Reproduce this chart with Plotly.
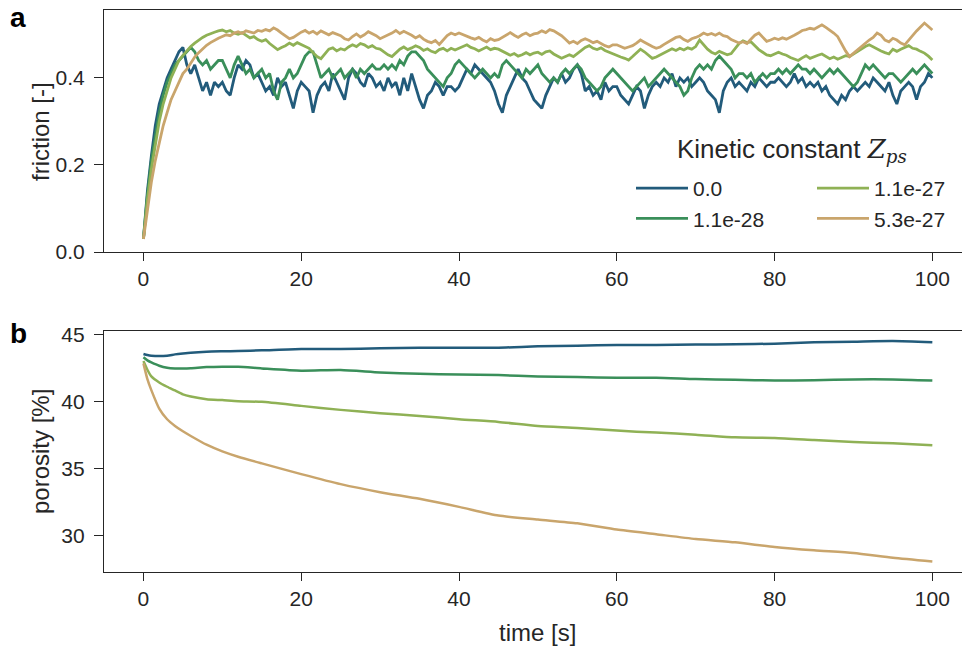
import plotly.graph_objects as go
from plotly.subplots import make_subplots

# friction sampled every 0.5 s from 0 to 100 s
time_fric = [i * 0.5 for i in range(201)]

fric_0 = [
    0.03, 0.14, 0.22, 0.29, 0.34, 0.37, 0.40, 0.42, 0.44, 0.46, 0.47, 0.43, 0.41, 0.43, 0.40, 0.37, 0.39, 0.36, 0.39, 0.38,
    0.39, 0.37, 0.36, 0.40, 0.43, 0.42, 0.44, 0.43, 0.40, 0.41, 0.39, 0.37, 0.38, 0.36, 0.40, 0.38, 0.39, 0.36, 0.33, 0.37,
    0.39, 0.38, 0.37, 0.32, 0.36, 0.38, 0.39, 0.37, 0.41, 0.39, 0.37, 0.35, 0.40, 0.42, 0.41, 0.39, 0.38, 0.41, 0.40, 0.38,
    0.39, 0.37, 0.40, 0.38, 0.39, 0.36, 0.40, 0.37, 0.41, 0.38, 0.35, 0.33, 0.36, 0.37, 0.39, 0.38, 0.36, 0.38, 0.38, 0.37,
    0.38, 0.40, 0.42, 0.41, 0.43, 0.42, 0.41, 0.40, 0.39, 0.37, 0.34, 0.32, 0.36, 0.38, 0.40, 0.42, 0.40, 0.39, 0.37, 0.35,
    0.34, 0.33, 0.36, 0.38, 0.40, 0.39, 0.41, 0.39, 0.40, 0.42, 0.43, 0.41, 0.37, 0.38, 0.36, 0.37, 0.35, 0.39, 0.37, 0.38,
    0.38, 0.36, 0.35, 0.34, 0.36, 0.38, 0.37, 0.33, 0.36, 0.38, 0.39, 0.38, 0.40, 0.39, 0.41, 0.38, 0.40, 0.39, 0.40, 0.38,
    0.39, 0.40, 0.39, 0.37, 0.36, 0.35, 0.32, 0.37, 0.39, 0.40, 0.38, 0.39, 0.38, 0.37, 0.39, 0.38, 0.40, 0.39, 0.38, 0.39,
    0.39, 0.40, 0.39, 0.38, 0.39, 0.41, 0.39, 0.40, 0.38, 0.39, 0.38, 0.39, 0.37, 0.38, 0.36, 0.35, 0.34, 0.36, 0.35, 0.37,
    0.38, 0.37, 0.38, 0.39, 0.38, 0.40, 0.39, 0.38, 0.37, 0.39, 0.36, 0.34, 0.37, 0.38, 0.39, 0.38, 0.35, 0.38, 0.39, 0.41,
    0.40,
]

fric_1 = [
    0.03, 0.13, 0.21, 0.27, 0.32, 0.36, 0.39, 0.41, 0.43, 0.44, 0.45, 0.46, 0.47, 0.46, 0.44, 0.43, 0.44, 0.42, 0.43, 0.44,
    0.44, 0.42, 0.40, 0.43, 0.45, 0.43, 0.41, 0.42, 0.40, 0.41, 0.42, 0.40, 0.41, 0.37, 0.35, 0.39, 0.40, 0.42, 0.40, 0.41,
    0.43, 0.45, 0.46, 0.46, 0.43, 0.40, 0.41, 0.42, 0.40, 0.41, 0.42, 0.40, 0.41, 0.42, 0.40, 0.42, 0.41, 0.42, 0.43, 0.42,
    0.42, 0.43, 0.42, 0.43, 0.42, 0.44, 0.43, 0.45, 0.46, 0.46, 0.45, 0.44, 0.42, 0.41, 0.40, 0.39, 0.38, 0.40, 0.41, 0.43,
    0.44, 0.43, 0.42, 0.41, 0.40, 0.41, 0.42, 0.41, 0.40, 0.41, 0.40, 0.43, 0.44, 0.43, 0.42, 0.41, 0.40, 0.42, 0.41, 0.42,
    0.43, 0.41, 0.40, 0.39, 0.40, 0.39, 0.41, 0.42, 0.41, 0.42, 0.43, 0.42, 0.40, 0.39, 0.38, 0.37, 0.38, 0.40, 0.41, 0.42,
    0.41, 0.40, 0.39, 0.38, 0.37, 0.38, 0.39, 0.40, 0.38, 0.39, 0.40, 0.41, 0.42, 0.41, 0.40, 0.39, 0.38, 0.36, 0.37, 0.40,
    0.42, 0.43, 0.42, 0.43, 0.42, 0.44, 0.45, 0.44, 0.43, 0.42, 0.40, 0.41, 0.41, 0.40, 0.41, 0.39, 0.40, 0.41, 0.40, 0.41,
    0.41, 0.42, 0.41, 0.42, 0.41, 0.42, 0.43, 0.42, 0.42, 0.41, 0.42, 0.41, 0.40, 0.41, 0.42, 0.41, 0.42, 0.41, 0.40, 0.39,
    0.38, 0.39, 0.41, 0.43, 0.42, 0.43, 0.42, 0.41, 0.40, 0.41, 0.41, 0.40, 0.39, 0.40, 0.41, 0.42, 0.41, 0.42, 0.43, 0.42,
    0.41,
]

fric_2 = [
    0.03, 0.12, 0.19, 0.25, 0.30, 0.34, 0.37, 0.40, 0.42, 0.44, 0.452, 0.463, 0.472, 0.48, 0.487, 0.493, 0.498, 0.502, 0.505, 0.508,
    0.51, 0.506, 0.509, 0.503, 0.5, 0.504, 0.498, 0.492, 0.495, 0.488, 0.484, 0.488, 0.479, 0.472, 0.465, 0.47, 0.474, 0.48, 0.475, 0.481,
    0.477, 0.472, 0.468, 0.458, 0.449, 0.444, 0.456, 0.466, 0.469, 0.462, 0.467, 0.464, 0.471, 0.476, 0.472, 0.479, 0.476, 0.47, 0.474, 0.468,
    0.466, 0.459, 0.453, 0.449, 0.458, 0.466, 0.471, 0.465, 0.469, 0.474, 0.47, 0.463, 0.467, 0.461, 0.458, 0.465, 0.468, 0.462, 0.468, 0.464,
    0.468, 0.472, 0.476, 0.47, 0.467, 0.462, 0.467, 0.471, 0.465, 0.468, 0.466, 0.461, 0.456, 0.452, 0.456, 0.45, 0.453, 0.458, 0.453, 0.457,
    0.459, 0.454, 0.46, 0.462, 0.455, 0.449, 0.445, 0.449, 0.453, 0.449, 0.456, 0.463, 0.47, 0.474, 0.468, 0.465, 0.469, 0.463, 0.459, 0.455,
    0.452, 0.448, 0.445, 0.441, 0.449, 0.458, 0.466, 0.46, 0.452, 0.445, 0.448, 0.453, 0.457, 0.462, 0.467, 0.463, 0.468, 0.464, 0.469, 0.466,
    0.472, 0.487, 0.476, 0.466, 0.459, 0.455, 0.461, 0.457, 0.453, 0.456, 0.468, 0.479, 0.485, 0.481, 0.483, 0.474, 0.465, 0.459, 0.453, 0.451,
    0.455, 0.459, 0.455, 0.452, 0.447, 0.443, 0.44, 0.446, 0.451, 0.445, 0.449, 0.452, 0.455, 0.449, 0.444, 0.448, 0.443, 0.447, 0.451, 0.449,
    0.455, 0.462, 0.468, 0.472, 0.476, 0.471, 0.467, 0.462, 0.458, 0.455, 0.466, 0.461, 0.466, 0.47, 0.474, 0.468, 0.466, 0.461, 0.457, 0.45,
    0.441,
]

fric_3 = [
    0.03, 0.10, 0.16, 0.21, 0.25, 0.29, 0.32, 0.35, 0.37, 0.39, 0.41, 0.42, 0.435, 0.448, 0.458, 0.467, 0.475, 0.481, 0.487, 0.491,
    0.495, 0.499, 0.497, 0.503, 0.506, 0.502, 0.508, 0.505, 0.503, 0.509, 0.507, 0.511, 0.508, 0.515, 0.51, 0.503, 0.497, 0.49, 0.493, 0.5,
    0.505, 0.509, 0.503, 0.507, 0.501, 0.508, 0.503, 0.499, 0.504, 0.5, 0.497, 0.49, 0.487, 0.495, 0.501, 0.494, 0.499, 0.506, 0.501, 0.497,
    0.49, 0.494, 0.499, 0.503, 0.509, 0.502, 0.507, 0.503, 0.498, 0.492, 0.497, 0.489, 0.484, 0.481, 0.486, 0.477, 0.488, 0.497, 0.503, 0.499,
    0.503, 0.499, 0.496, 0.492, 0.489, 0.493, 0.487, 0.483, 0.49, 0.486, 0.488, 0.494, 0.5, 0.504, 0.498, 0.493, 0.499, 0.503, 0.497, 0.501,
    0.503, 0.508, 0.504, 0.511, 0.508, 0.503, 0.497, 0.489, 0.48, 0.484, 0.479, 0.486, 0.49, 0.486, 0.481, 0.484, 0.478, 0.474, 0.471, 0.476,
    0.476, 0.472, 0.468, 0.471, 0.474, 0.48, 0.487, 0.482, 0.476, 0.472, 0.468, 0.471, 0.477, 0.482, 0.488, 0.493, 0.495, 0.488, 0.484, 0.49,
    0.493, 0.497, 0.503, 0.499, 0.502, 0.498, 0.503, 0.497, 0.495, 0.488, 0.484, 0.48, 0.483, 0.479, 0.489, 0.498, 0.503, 0.494, 0.484, 0.487,
    0.491, 0.488, 0.492, 0.489, 0.493, 0.498, 0.503, 0.509, 0.511, 0.514, 0.512, 0.518, 0.522, 0.516, 0.51, 0.503, 0.495, 0.478, 0.462, 0.449,
    0.457, 0.465, 0.471, 0.48, 0.487, 0.493, 0.503, 0.498, 0.487, 0.483, 0.491, 0.487, 0.48, 0.476, 0.487, 0.499, 0.508, 0.517, 0.526, 0.518,
    0.51,
]

# porosity [%], smooth curves
time_por = [0, 0.5, 1, 2, 3, 4, 5, 6, 8, 10, 12, 15, 20, 25, 30, 35, 40, 45, 50, 55, 60, 65, 70, 75, 80, 85, 90, 95, 100]
por_0 = [43.58, 43.50, 43.45, 43.42, 43.45, 43.55, 43.62, 43.68, 43.75, 43.78, 43.80, 43.85, 43.95, 43.95, 44.00,
         44.05, 44.05, 44.05, 44.15, 44.20, 44.25, 44.25, 44.28, 44.30, 44.35, 44.45, 44.50, 44.55, 44.45]
por_1 = [43.33, 43.10, 42.95, 42.70, 42.55, 42.50, 42.50, 42.52, 42.60, 42.63, 42.62, 42.50, 42.33, 42.38, 42.20,
         42.10, 42.05, 42.00, 41.90, 41.85, 41.80, 41.80, 41.70, 41.65, 41.60, 41.62, 41.68, 41.68, 41.60]
por_2 = [43.05, 42.40, 41.90, 41.45, 41.13, 40.85, 40.56, 40.40, 40.20, 40.13, 40.05, 40.00, 39.70, 39.40, 39.15,
         38.95, 38.70, 38.50, 38.20, 38.05, 37.85, 37.70, 37.55, 37.35, 37.30, 37.15, 37.00, 36.90, 36.76]
por_3 = [42.88, 41.70, 40.88, 39.50, 38.70, 38.20, 37.80, 37.45, 36.80, 36.30, 35.90, 35.40, 34.60, 33.85, 33.25,
         32.75, 32.15, 31.50, 31.20, 30.92, 30.45, 30.10, 29.75, 29.50, 29.15, 28.90, 28.70, 28.35, 28.07]

labels = ["0.0", "1.1e-28", "1.1e-27", "5.3e-27"]
colors = ["#225b7b", "#3a8f5a", "#8fb155", "#c9a56c"]
x_ticks = [0, 20, 40, 60, 80, 100]
fric_ticks = [0.0, 0.2, 0.4]
por_ticks = [30, 35, 40, 45]

FONT = "Arial, Liberation Sans, sans-serif"
INK = "#262626"

fig = make_subplots(rows=2, cols=1, vertical_spacing=0.14)

fric = [fric_0, fric_1, fric_2, fric_3]
por = [por_0, por_1, por_2, por_3]
legend_of = ["legend", "legend", "legend2", "legend2"]
for i in range(4):
    fig.add_trace(go.Scatter(x=time_fric, y=fric[i], mode="lines", name=labels[i],
                             line=dict(color=colors[i], width=2.8), legend=legend_of[i]),
                  row=1, col=1)
for i in range(4):
    fig.add_trace(go.Scatter(x=time_por, y=por[i], mode="lines", showlegend=False,
                             line=dict(color=colors[i], width=2.5, shape="spline", smoothing=0.6)),
                  row=2, col=1)

axis_style = dict(showline=True, linecolor=INK, linewidth=1.2, ticks="outside",
                  tickwidth=1.2, tickcolor=INK, showgrid=False, zeroline=False,
                  tickfont=dict(family=FONT, size=21, color=INK))

# plot area: x 104..962 px, y 10..572 px
top_dom = [(572 - 252) / 562, 1.0]
bot_dom = [0.0, (572 - 330.7) / 562]
fig.update_xaxes(**axis_style, ticklen=8, range=[-5, 103.76], tickvals=x_ticks, mirror=True)
fig.update_yaxes(**axis_style, ticklen=9, ticklabelstandoff=5)
fig.update_yaxes(range=[0, 0.556], tickvals=fric_ticks, tickformat=".1f", domain=top_dom, row=1, col=1)
fig.update_yaxes(range=[27.28, 45.32], tickvals=por_ticks, domain=bot_dom, row=2, col=1)

def px_x(p):
    return (p - 104) / 858

def px_y(p):
    return (572 - p) / 562

text_font = dict(family=FONT, size=24, color=INK)
annots = [
    dict(text="<b>a</b>", x=px_x(18), y=px_y(18), font=dict(family=FONT, size=28, color="black")),
    dict(text="<b>b</b>", x=px_x(18), y=px_y(333), font=dict(family=FONT, size=28, color="black")),
    dict(text="friction [-]", x=px_x(40), y=px_y(132), textangle=-90, font=text_font),
    dict(text="porosity [%]", x=px_x(40), y=px_y(452), textangle=-90, font=text_font),
    dict(text="time [s]", x=px_x(537), y=px_y(632), font=text_font),
    dict(text='Kinetic constant <span style="font-family:DejaVu Serif, serif"><i>Z</i><sub><i>ps</i></sub></span>',
         x=px_x(792), y=px_y(150), font=dict(family=FONT, size=26, color=INK)),
]
for a in annots:
    fig.add_annotation(xref="paper", yref="paper", showarrow=False, xanchor="center", yanchor="middle", **a)

legend_style = dict(font=dict(family=FONT, size=21, color=INK), bgcolor="rgba(0,0,0,0)",
                    orientation="v", xanchor="left", yanchor="top", itemwidth=52, tracegroupgap=0)
fig.update_layout(
    width=962, height=651,
    margin=dict(l=104, r=0, t=10, b=79),
    plot_bgcolor="white", paper_bgcolor="white",
    legend=dict(**legend_style, x=px_x(631), y=px_y(168)),
    legend2=dict(**legend_style, x=px_x(812), y=px_y(168)),
)

# drop the browser's default body margin so the figure sits at the page corner
fig.write_html("out.html", config={"displayModeBar": False},
               post_script="document.body.style.margin='0';")
